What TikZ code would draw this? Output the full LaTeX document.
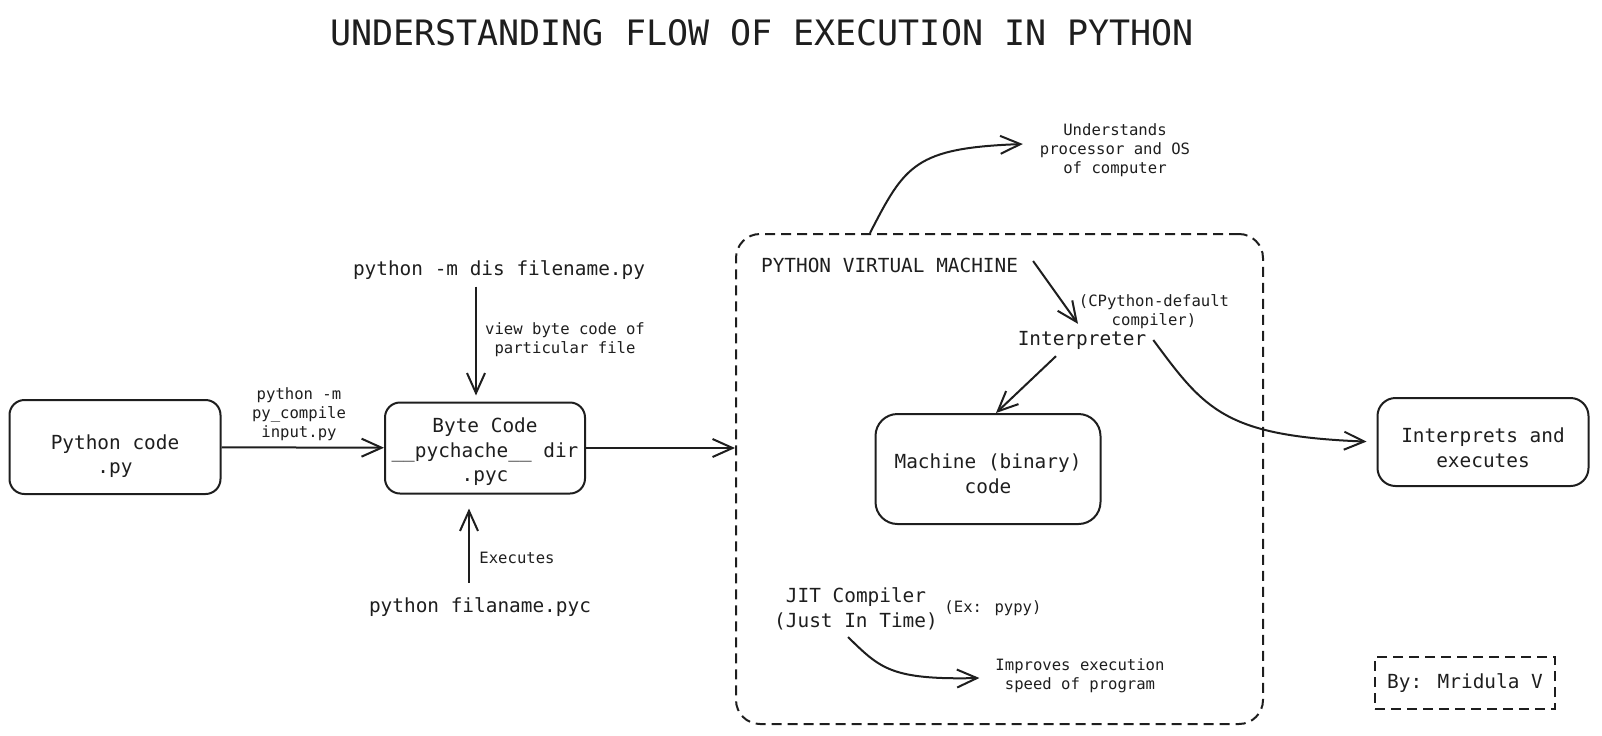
\documentclass[tikz,border=0pt]{standalone}
\usepackage{fontspec}
\setmainfont{DejaVu Sans Mono}
\usetikzlibrary{arrows.meta}
\definecolor{ink}{HTML}{1E1E1E}

\begin{document}
\begin{tikzpicture}[x=0.5pt,y=-0.5pt]
		\tikzset{box/.style = {shape=rectangle, draw=ink, line width=1pt, rounded corners=7.5pt},
			txt/.style = {align=center, text=ink, font=\fontsize{9.7}{12.3}\selectfont},
			small/.style = {align=center, text=ink, font=\fontsize{7.8}{9.5}\selectfont},
			arr/.style = {draw=ink, line width=1pt, -{Straight Barb[length=10pt, width=9pt, line width=1pt]}},
			dashbox/.style = {draw=ink, line width=1pt, dash pattern=on 5pt off 3pt}}

		\useasboundingbox (0,0) rectangle (1602,735);

		\node[txt, font=\fontsize{17.5}{20}\selectfont] (title) at (762,33) {UNDERSTANDING FLOW OF EXECUTION IN PYTHON};

		\node[box, minimum width=105.5pt, minimum height=47pt, label={[txt, yshift=-4.6pt]center:{Python code\\.py}}] (py_code) at (115,447) {};
		\node[box, minimum width=100pt, minimum height=45.5pt, label={[txt, yshift=-2pt]center:{Byte Code\\\_\_pychache\_\_ dir\\.pyc}}] (byte) at (485,448) {};
		\node[small] (compile) at (299,414) {python -m\\py\_compile\\input.py};

		\node[txt] (dis) at (499,270) {python -m dis filename.py};
		\node[small] (view) at (565,340) {view byte code of\\particular file};
		\node[txt] (run) at (480,607) {python filaname.pyc};
		\node[small] (exe) at (517,558) {Executes};

		\node[dashbox, rounded corners=12pt, minimum width=263.5pt, minimum height=245pt] (pvm) at (999.5,479) {};
		\node[txt, anchor=west] (pvm_lbl) at (754,265) {PYTHON VIRTUAL MACHINE};
		\node[small] (under) at (1115,150) {Understands\\processor and OS\\of computer};
		\node[small] (cpython) at (1154,312) {(CPython-default\\compiler)};
		\node[txt] (interp) at (1082,340) {Interpreter};
		\node[box, rounded corners=11pt, minimum width=112.5pt, minimum height=55pt, label={[txt, yshift=-2.5pt]center:{Machine (binary)\\code}}] (machine) at (988,469) {};
		\node[box, rounded corners=9pt, minimum width=105.5pt, minimum height=44pt, label={[txt, yshift=-3pt]center:{Interprets and\\executes}}] (exec) at (1483,442) {};
		\node[txt] (jit) at (856,609) {JIT Compiler\\(Just In Time)};
		\node[small] (pypy) at (993,608) {(Ex: pypy)};
		\node[small] (impr) at (1080,676) {Improves execution\\speed of program};

		\node[dashbox, txt, minimum width=90pt, minimum height=26pt] (author) at (1465,683) {By: Mridula V};

		\coordinate (dis_in) at ([xshift=-4.5pt]byte.north);
		\coordinate (run_in) at ([xshift=-8pt]byte.south);


		\draw[arr] (py_code) -- (byte);
		\draw[arr] (byte.east) -- (byte.east -| pvm.west);
		\draw[arr, shorten >=3pt] (dis_in |- dis.south) -- (dis_in);
		\draw[arr, shorten >=7pt, shorten <=4pt] (run_in |- run.north) -- (run_in);

		\draw[arr] ([xshift=-64.75pt]pvm.north) .. controls (905,165) and (915,148) .. ([xshift=-5pt, yshift=3pt]under.west);
		\draw[arr] ([xshift=4pt, yshift=2pt]pvm_lbl.east) -- ([xshift=-2pt]interp.north);
		\draw[arr] ([xshift=-13pt]interp.south) -- ([xshift=4pt]machine.north);
		\draw[arr, shorten >=5pt] (interp.east) .. controls (1205,410) and (1225,436) .. (exec.west);
		\draw[arr] ([xshift=-4pt]jit.south) .. controls (880,668) and (890,680) .. ([xshift=-4.5pt, yshift=-1pt]impr.west);

	\end{tikzpicture}
\end{document}
